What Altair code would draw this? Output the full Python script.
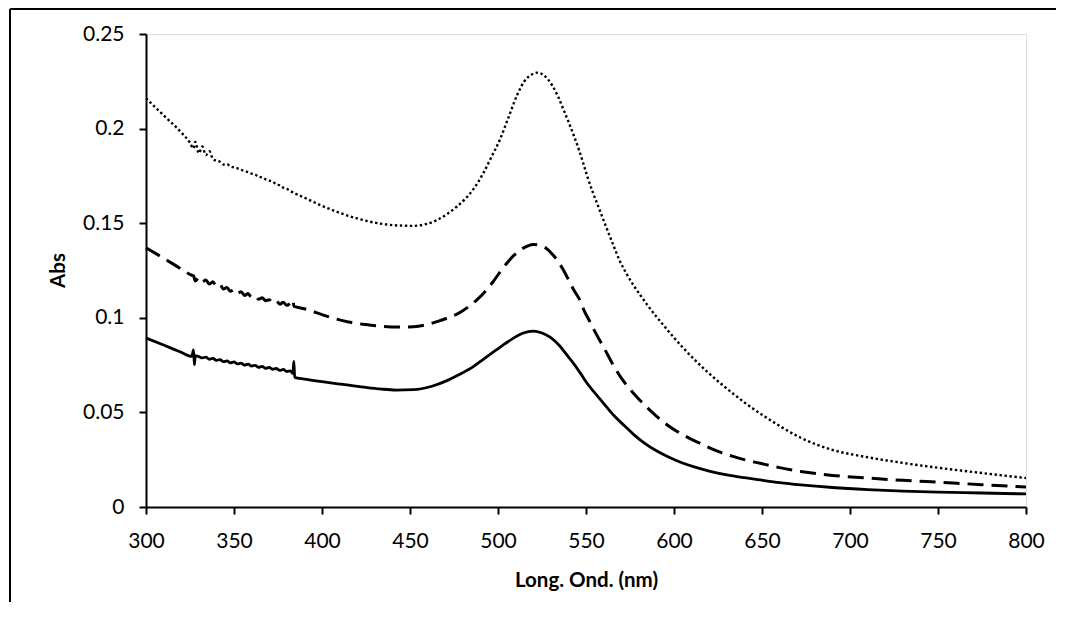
import altair as alt
import pandas as pd

FONT = "Lato"

# ---- data ----
solid_nm = [300, 310, 320, 326, 327, 327.5, 328, 330, 332, 334, 336, 338, 340, 342, 344, 346, 348, 350,
            352, 354, 356, 358, 360, 362, 364, 366, 368, 370, 372, 374, 376, 378, 380, 382, 383.5, 384,
            384.5, 390, 400, 410, 425, 433, 442, 452, 462, 471, 478, 486, 492, 499, 504, 509, 514, 520,
            525, 530, 535, 539, 543, 547, 550, 555, 560, 566, 572, 577, 583, 590, 596, 603, 611, 620,
            630, 640, 649, 660, 672, 690, 710, 730, 750, 775, 800]
solid_abs = [0.0893, 0.0856, 0.0818, 0.0796, 0.0830, 0.0752, 0.0800, 0.0795, 0.0788, 0.0792, 0.0781,
             0.0786, 0.0775, 0.0779, 0.0768, 0.0772, 0.0762, 0.0767, 0.0756, 0.0760, 0.0750, 0.0755,
             0.0745, 0.0749, 0.0738, 0.0743, 0.0733, 0.0738, 0.0728, 0.0732, 0.0722, 0.0727, 0.0716,
             0.0720, 0.0706, 0.0770, 0.0685, 0.0676, 0.0663, 0.0650, 0.0632, 0.0624, 0.0618, 0.0620,
             0.0637, 0.0668, 0.0700, 0.0742, 0.0783, 0.0830, 0.0863, 0.0894, 0.0918, 0.0930, 0.0920,
             0.0895, 0.0852, 0.0805, 0.0758, 0.0705, 0.0662, 0.0603, 0.0548, 0.0482, 0.0428, 0.0384,
             0.0339, 0.0297, 0.0268, 0.0239, 0.0213, 0.0190, 0.0170, 0.0155, 0.0143, 0.0129, 0.0117,
             0.0103, 0.0092, 0.0084, 0.0079, 0.0074, 0.0069]

dashed_nm = [300, 310, 320, 326, 327, 328, 330, 332, 334, 336, 338, 340, 342, 344, 346, 348, 350, 352,
             354, 356, 358, 360, 362, 364, 366, 368, 370, 372, 374, 376, 378, 380, 382, 383.5, 384, 390,
             400, 406, 415, 425, 433, 443, 452, 460, 467, 473, 478, 483, 488, 493, 497, 501, 505, 509,
             513, 517, 520, 524, 528, 531, 534, 537, 540, 543, 546.6, 549, 552, 555, 560, 566, 570, 574,
             579, 584.5, 590, 596, 602, 607, 614, 620.5, 627, 634, 641, 649, 660, 672, 690, 710, 730,
             750, 775, 800]
dashed_abs = [0.1370, 0.1315, 0.1258, 0.1225, 0.1222, 0.1195, 0.1212, 0.1190, 0.1200, 0.1178, 0.1190,
              0.1165, 0.1175, 0.1152, 0.1160, 0.1140, 0.1150, 0.1130, 0.1138, 0.1118, 0.1128, 0.1108,
              0.1115, 0.1098, 0.1106, 0.1090, 0.1096, 0.1080, 0.1090, 0.1072, 0.1082, 0.1066, 0.1078,
              0.1095, 0.1062, 0.1048, 0.1017, 0.0999, 0.0978, 0.0964, 0.0956, 0.0951, 0.0953, 0.0965,
              0.0985, 0.1005, 0.1026, 0.1057, 0.1095, 0.1142, 0.1188, 0.1240, 0.1288, 0.1330, 0.1360,
              0.1380, 0.1388, 0.1382, 0.1363, 0.1335, 0.1300, 0.1255, 0.1202, 0.1148, 0.1092, 0.1037,
              0.0983, 0.0928, 0.0845, 0.0742, 0.0682, 0.0633, 0.0580, 0.0528, 0.0480, 0.0435, 0.0398,
              0.0372, 0.0340, 0.0311, 0.0287, 0.0266, 0.0248, 0.0231, 0.0208, 0.0188, 0.0167, 0.0153,
              0.0141, 0.0131, 0.0118, 0.0106]

dotted_nm = [300, 310, 320, 325, 327, 328, 330, 332, 334, 336, 338, 340, 342, 344, 346, 348, 350, 352,
             354, 356, 358, 360, 362, 364, 366, 368, 370, 372, 374, 376, 378, 380, 382, 384, 390, 399,
             410, 420, 433, 443, 452, 459, 465, 471, 476.5, 481, 486, 491.5, 496, 501, 506, 511, 515,
             519, 522.5, 526, 531, 534, 537, 540, 543, 546, 548.5, 551, 554, 557, 560, 565.5, 569, 573,
             577, 581, 585, 590, 595, 600, 605, 611, 618, 626, 633.5, 641, 650, 658, 672, 690, 710, 730,
             747, 770, 800]
dotted_abs = [0.2160, 0.2070, 0.1980, 0.1925, 0.1895, 0.1930, 0.1870, 0.1905, 0.1860, 0.1880, 0.1840,
              0.1830, 0.1825, 0.1810, 0.1812, 0.1800, 0.1795, 0.1790, 0.1782, 0.1776, 0.1770, 0.1762,
              0.1758, 0.1745, 0.1742, 0.1732, 0.1725, 0.1720, 0.1705, 0.1700, 0.1688, 0.1682, 0.1670,
              0.1660, 0.1635, 0.1596, 0.1555, 0.1525, 0.1498, 0.1488, 0.1486, 0.1495, 0.1515, 0.1548,
              0.1587, 0.1625, 0.1680, 0.1762, 0.1845, 0.1940, 0.2060, 0.2180, 0.2250, 0.2285, 0.2296,
              0.2282, 0.2225, 0.2172, 0.2105, 0.2037, 0.1965, 0.1888, 0.1815, 0.1740, 0.1660, 0.1588,
              0.1515, 0.1385, 0.1305, 0.1233, 0.1172, 0.1118, 0.1066, 0.1006, 0.0950, 0.0895, 0.0843,
              0.0785, 0.0722, 0.0657, 0.0600, 0.0546, 0.0488, 0.0440, 0.0366, 0.0302, 0.0263, 0.0233,
              0.0211, 0.0185, 0.0153]

x_ticks = [300, 350, 400, 450, 500, 550, 600, 650, 700, 750, 800]
y_ticks = [0, 0.05, 0.1, 0.15, 0.2, 0.25]

x_enc = alt.X(
    "nm:Q",
    scale=alt.Scale(domain=[300, 800], nice=False, zero=False),
    axis=alt.Axis(
        title="Long. Ond. (nm)", values=x_ticks, grid=False, labelFlush=False,
        domainColor="black", domainWidth=2, tickColor="black", tickWidth=2, tickSize=7,
        labelFont=FONT, labelFontSize=21, labelColor="black", labelPadding=16,
        titleFont=FONT, titleFontSize=20.5, titleFontWeight="bold", titleColor="black",
        titleBaseline="alphabetic", titleY=79,
    ),
)
y_enc = alt.Y(
    "abs:Q",
    scale=alt.Scale(domain=[0, 0.25], nice=False),
    axis=alt.Axis(
        title="Abs", values=y_ticks, format=".2~f", grid=False,
        domainColor="black", domainWidth=2, tickColor="black", tickWidth=2, tickSize=7,
        labelFont=FONT, labelFontSize=21, labelColor="black", labelPadding=15,
        titleFont=FONT, titleFontSize=20.5, titleFontWeight="bold", titleColor="black",
        titleBaseline="alphabetic", titleX=-82, titleY=236,
    ),
)


def series(nm, ab):
    return pd.DataFrame({"nm": nm, "abs": ab})


solid = alt.Chart(series(solid_nm, solid_abs)).mark_line(
    color="black", strokeWidth=2.8, interpolate="monotone"
).encode(x=x_enc, y=y_enc)

dashed = alt.Chart(series(dashed_nm, dashed_abs)).mark_line(
    color="black", strokeWidth=3, strokeDash=[16, 8], interpolate="monotone"
).encode(x=x_enc, y=y_enc)

dotted = alt.Chart(series(dotted_nm, dotted_abs)).mark_line(
    color="black", strokeWidth=2.4, strokeDash=[2.4, 2.6], interpolate="monotone"
).encode(x=x_enc, y=y_enc)

frame_data = alt.Data(values=[{"k": 1}])
frame_left = alt.Chart(frame_data).mark_rule(color="black", strokeWidth=2).encode(
    x=alt.value(-136), y=alt.value(-25), y2=alt.value(570)
)
frame_top = alt.Chart(frame_data).mark_rule(color="black", strokeWidth=2).encode(
    x=alt.value(-136), x2=alt.value(915), y=alt.value(-25)
)

chart = alt.layer(solid, dashed, dotted, frame_left, frame_top).properties(
    width=880, height=473,
    autosize=alt.AutoSizeParams(type="none"),
    padding={"left": 138, "top": 26, "right": 30, "bottom": 95},
).configure_view(stroke=None).configure(background="white")

chart.save("out.html", embed_options={"renderer": "svg", "actions": False})
